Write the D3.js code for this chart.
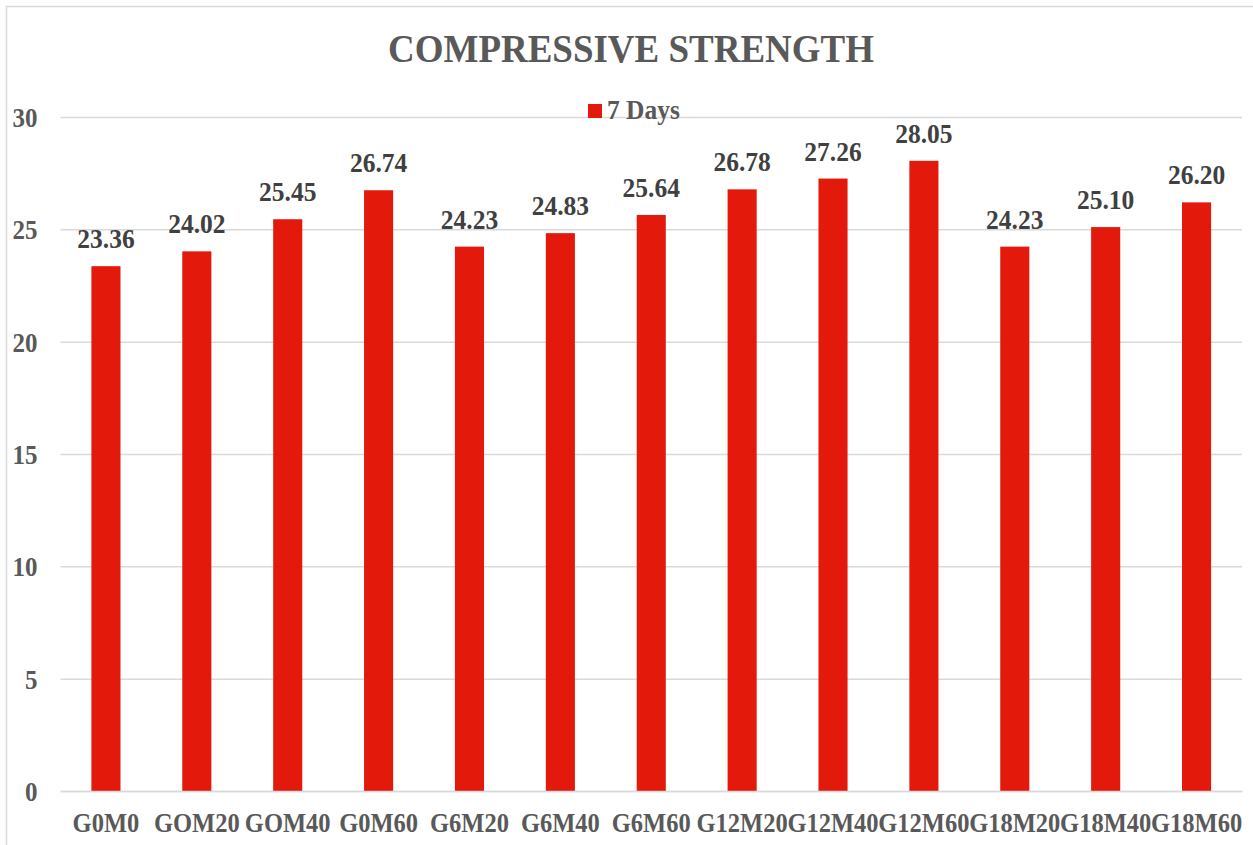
<!DOCTYPE html>
<html>
<head>
<meta charset="utf-8">
<script src="https://cdn.jsdelivr.net/npm/d3@7"></script>
<style>
  html, body { margin: 0; padding: 0; background: #fff; }
  svg { display: block; }
  text { font-family: "Liberation Serif", "Times New Roman", serif; font-weight: bold; }
</style>
</head>
<body>
<svg id="chart" width="1253" height="845"></svg>
<script>
// Mix designations and their 7-day compressive strength
const categories = ["G0M0", "GOM20", "GOM40", "G0M60", "G6M20", "G6M40", "G6M60",
                    "G12M20", "G12M40", "G12M60", "G18M20", "G18M40", "G18M60"];
const strength7Days = [23.36, 24.02, 25.45, 26.74, 24.23, 24.83, 25.64,
                       26.78, 27.26, 28.05, 24.23, 25.10, 26.20];
const yTicks = [0, 5, 10, 15, 20, 25, 30];
const seriesName = "7 Days";
const chartTitle = "COMPRESSIVE STRENGTH";

const svg = d3.select("#chart");
const plot = { left: 60.5, right: 1242, top: 117, bottom: 791 };
const barColor = "#E2190B";
const gridColor = "#d9d9d9";
const stretch = 1.1; // slightly tall lettering

// Chart frame
svg.append("path")
  .attr("d", "M6.5,860 V6.5 H1270")
  .attr("fill", "none")
  .attr("stroke", gridColor)
  .attr("stroke-width", 1.5);

const x = d3.scaleBand()
  .domain(categories)
  .range([plot.left, plot.right])
  .paddingInner(0.68)
  .paddingOuter(0.34);

const y = d3.scaleLinear()
  .domain([0, 30])
  .range([plot.bottom, plot.top]);

// Horizontal gridlines + y tick labels via axis
const yAxis = d3.axisLeft(y)
  .tickValues(yTicks)
  .tickSize(-(plot.right - plot.left))
  .tickPadding(23)
  .tickFormat(d3.format("d"));

const gy = svg.append("g")
  .attr("transform", `translate(${plot.left},0)`)
  .call(yAxis);
gy.select(".domain").remove();
gy.selectAll(".tick line")
  .attr("stroke", gridColor)
  .attr("stroke-width", 1.5);
gy.selectAll(".tick text")
  .attr("fill", "#595959")
  .attr("font-size", 25)
  .attr("font-family", "'Liberation Serif', 'Times New Roman', serif")
  .attr("font-weight", "bold")
  .attr("dy", "0.34em")
  .attr("transform", `scale(1,${stretch})`);

// Bars
svg.append("g")
  .selectAll("rect")
  .data(categories)
  .join("rect")
  .attr("x", d => x(d))
  .attr("width", x.bandwidth())
  .attr("y", (d, i) => y(strength7Days[i]))
  .attr("height", (d, i) => y(0) - y(strength7Days[i]))
  .attr("fill", barColor);

// Baseline (category axis)
const xAxis = d3.axisBottom(x).tickSize(0).tickPadding(20);
const gx = svg.append("g")
  .attr("transform", `translate(0,${plot.bottom})`)
  .call(xAxis);
gx.select(".domain")
  .attr("stroke", gridColor)
  .attr("stroke-width", 1.5);
gx.selectAll(".tick text")
  .attr("fill", "#595959")
  .attr("font-size", 24.5)
  .attr("font-family", "'Liberation Serif', 'Times New Roman', serif")
  .attr("font-weight", "bold")
  .attr("dy", "0.71em")
  .attr("transform", `scale(1,${stretch})`);

// Value labels above bars
svg.append("g")
  .selectAll("text")
  .data(categories)
  .join("text")
  .attr("transform", (d, i) =>
    `translate(${x(d) + x.bandwidth() / 2},${y(strength7Days[i]) - 18}) scale(1,${stretch})`)
  .attr("text-anchor", "middle")
  .attr("font-size", 25.5)
  .attr("fill", "#404040")
  .text((d, i) => strength7Days[i].toFixed(2));

// Title
svg.append("text")
  .attr("transform", `translate(631,62) scale(1,${stretch})`)
  .attr("text-anchor", "middle")
  .attr("font-size", 37)
  .attr("fill", "#595959")
  .text(chartTitle);

// Legend
const legend = svg.append("g").attr("transform", "translate(588,104)");
legend.append("rect")
  .attr("width", 14)
  .attr("height", 14)
  .attr("fill", barColor);
legend.append("text")
  .attr("transform", `translate(19,15) scale(1,${stretch})`)
  .attr("font-size", 25.5)
  .attr("fill", "#595959")
  .text(seriesName);
</script>
</body>
</html>
